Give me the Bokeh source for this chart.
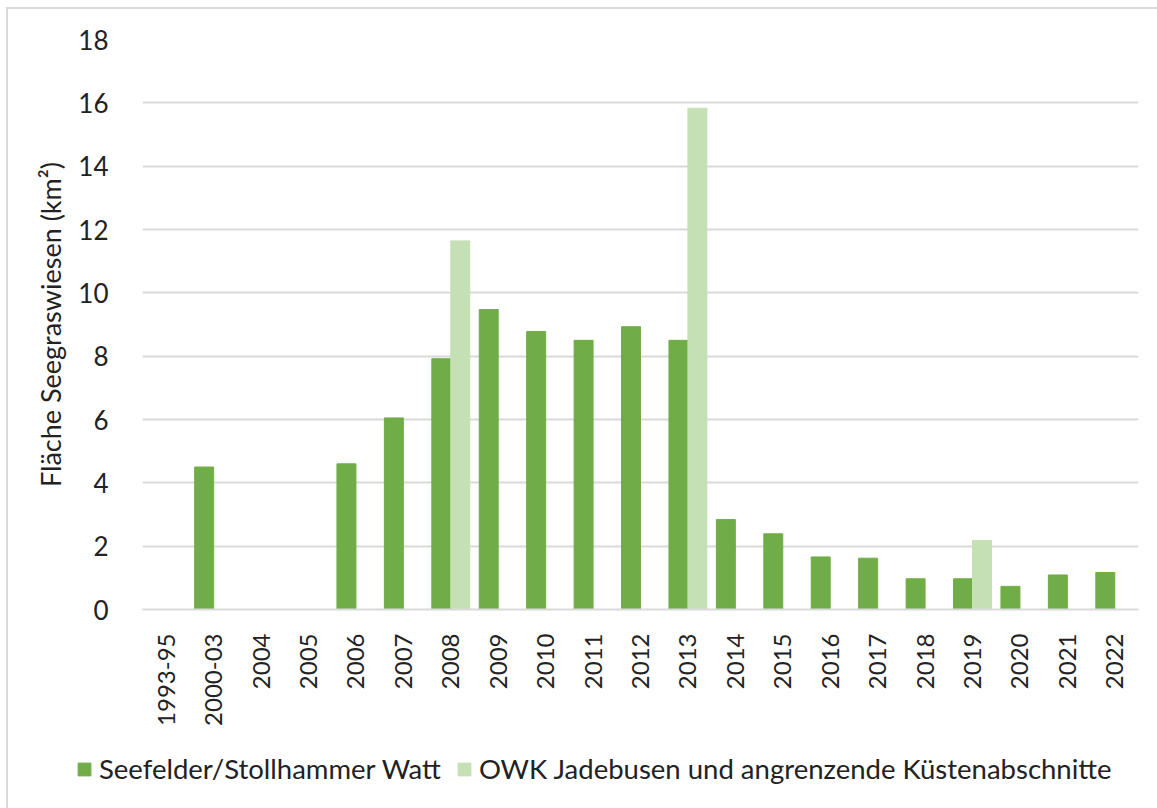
import math
from bokeh.plotting import figure
from bokeh.layouts import column
from bokeh.models import (ColumnDataSource, FactorRange, Range1d, SingleIntervalTicker,
                          Legend, LegendItem)
from bokeh.transform import dodge
from bokeh.embed import file_html
from bokeh.resources import INLINE

categories = ["1993-95", "2000-03", "2004", "2005", "2006", "2007", "2008", "2009",
              "2010", "2011", "2012", "2013", "2014", "2015", "2016", "2017",
              "2018", "2019", "2020", "2021", "2022"]
seefelder = [None, 4.5, None, None, 4.6, 6.05, 7.92, 9.47, 8.78, 8.5, 8.93, 8.5,
             2.84, 2.39, 1.66, 1.62, 0.97, 0.97, 0.73, 1.09, 1.17]
owk = [None, None, None, None, None, None, 11.64, None, None, None, None, 15.83,
       None, None, None, None, None, 2.18, None, None, None]

label_seefelder = "Seefelder/Stollhammer Watt"
label_owk = "OWK Jadebusen und angrenzende Küstenabschnitte"
y_title = "Fläche Seegraswiesen (km²)"

dark = "#70AD47"
light = "#C5E0B4"
txt = "#222222"
font = "Lato"

def src(vals):
    xs = [c for c, v in zip(categories, vals) if v is not None]
    ys = [v for v in vals if v is not None]
    return ColumnDataSource(dict(cat=xs, v=ys))

W = 1149
H1 = 720
H2 = 79

p = figure(x_range=FactorRange(factors=categories), y_range=Range1d(0, 18),
           width=W, height=H1, output_backend="svg", toolbar_location=None,
           min_border_left=134, min_border_right=19, min_border_top=30,
           min_border_bottom=H1 - 30 - 570)
p.outline_line_color = None
p.background_fill_color = "white"
p.border_fill_color = "white"

r1 = p.vbar(x=dodge("cat", -0.2, range=p.x_range), top="v", width=0.4,
            source=src(seefelder), fill_color=dark, line_color=dark)
r2 = p.vbar(x=dodge("cat", 0.2, range=p.x_range), top="v", width=0.4,
            source=src(owk), fill_color=light, line_color=light)

# axes
p.yaxis.ticker = SingleIntervalTicker(interval=2)
p.yaxis.axis_line_color = None
p.yaxis.major_tick_line_color = None
p.yaxis.minor_tick_line_color = None
p.yaxis.major_label_standoff = 28
p.yaxis.major_label_text_font = font
p.yaxis.major_label_text_font_size = "26px"
p.yaxis.major_label_text_color = txt
p.yaxis.axis_label = y_title
p.yaxis.axis_label_text_font = font
p.yaxis.axis_label_text_font_size = "27px"
p.yaxis.axis_label_text_font_style = "normal"
p.yaxis.axis_label_text_color = txt
p.yaxis.axis_label_standoff = 8

p.xaxis.axis_line_color = "#d9d9d9"
p.xaxis.axis_line_width = 2
p.xaxis.major_tick_line_color = None
p.xaxis.minor_tick_line_color = None
p.xaxis.major_label_orientation = math.pi / 2
p.xaxis.major_label_standoff = 18
p.xaxis.major_label_text_font = font
p.xaxis.major_label_text_font_size = "24px"
p.xaxis.major_label_text_color = txt

p.xgrid.grid_line_color = None
p.ygrid.grid_line_color = "#d9d9d9"
p.ygrid.grid_line_width = 2

# legend in a separate strip below the chart
lf = figure(width=W, height=H2, output_backend="svg", toolbar_location=None,
            x_axis_location=None, y_axis_location=None,
            x_range=Range1d(0, 1), y_range=Range1d(0, 1),
            min_border=0, min_border_left=0, min_border_right=0,
            min_border_top=0, min_border_bottom=0)
for fig in (p, lf):
    if "frame_align" in fig.properties():
        fig.frame_align = False
lf.grid.visible = False
lf.outline_line_color = None
lf.border_fill_color = "white"
lf.background_fill_color = "white"
# legend swatches: renderers whose single bar lies outside the visible range
l1 = lf.vbar(x=[3], top=[1], width=0.01, fill_color=dark, line_color=dark)
l2 = lf.vbar(x=[3], top=[1], width=0.01, fill_color=light, line_color=light)

legend = Legend(items=[LegendItem(label=label_seefelder, renderers=[l1]),
                       LegendItem(label=label_owk, renderers=[l2])],
                orientation="horizontal", location=(68, 23),
                label_text_font=font, label_text_font_size="27.5px",
                label_text_color=txt, glyph_width=16, glyph_height=16,
                label_standoff=7, spacing=15, padding=5, margin=0,
                border_line_color=None, background_fill_alpha=0)
lf.add_layout(legend, "center")

layout = column(p, lf, spacing=0,
                styles={"border-left": "2px solid #d9d9d9",
                        "border-top": "2px solid #d9d9d9",
                        "margin-left": "6px", "margin-top": "7px"})

open("out.html", "w").write(file_html(layout, INLINE))
